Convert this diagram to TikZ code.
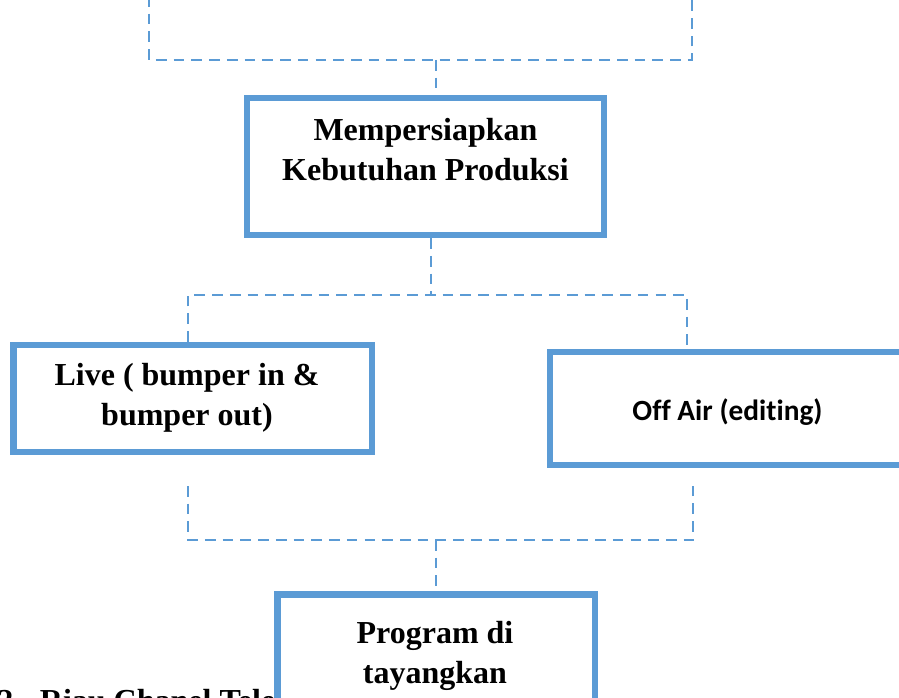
\documentclass[tikz,border=0pt]{standalone}
\usepackage{fontspec}
\setmainfont{Liberation Serif}
\newfontfamily\calibri[Ligatures=NoCommon]{Carlito}
\definecolor{boxblue}{HTML}{5B9BD5}
\tikzset{
    stepbox/.style={draw=boxblue, line width=4.9pt, fill=white, inner sep=0pt},
    link/.style={draw=boxblue, line width=2.2pt, dash pattern=on 8pt off 5.3pt},
    caption/.style={font=\bfseries\fontsize{24}{30}\selectfont, align=center, inner sep=0pt, anchor=base},
}

\begin{document}
\begin{tikzpicture}[x=0.75pt, y=-0.75pt]
    \useasboundingbox (0,0) rectangle (899,698);
    \clip (0,0) rectangle (899,698);

    \node[caption, anchor=base west] (item) at (-3,711) {2.\hspace{14pt}Riau Chanel Tele};

    \node[stepbox, minimum width=267.75pt, minimum height=102.75pt] (prep) at (425.5,166.5) {};
    \node[stepbox, minimum width=268.9pt, minimum height=80.25pt] (live) at (192.75,398.5) {};
    \node[stepbox, minimum width=266.25pt, minimum height=84.75pt] (offair) at (727.5,408.5) {};
    \node[stepbox, minimum width=238.1pt, minimum height=86.25pt] (aired) at (436.25,652) {};

    \node[caption] (prep-txt) at (425.5,181) {Mempersiapkan\\Kebutuhan Produksi};
    \node[caption] (live-txt) at (187,425) {Live ( bumper in \&\\bumper out)};
    \node[caption, font=\calibri\bfseries\fontsize{22}{27}\selectfont] (offair-txt) at (727.5,420) {Off Air (editing)};
    \node[caption] (aired-txt) at (435,683) {Program di\\tayangkan};

    \coordinate (tl) at (149,-4);
    \coordinate (tr) at (692,-4);
    \coordinate (tj) at (436,60);
    \draw[link] (tl) |- (tj) -| (tr);
    \draw[link] (tj) -- (prep.north -| tj);

    \coordinate (mj) at (431,295);
    \coordinate (ml) at (188,295);
    \coordinate (mr) at (687,295);
    \draw[link] (prep.south -| mj) -- (mj);
    \draw[link] (live.north -| ml) -- (ml) -- (mr) -- (offair.north -| mr);

    \coordinate (bl) at (188,486);
    \coordinate (br) at (693,486);
    \coordinate (bj) at (436,540);
    \draw[link] (bl) |- (bj) -| (br);
    \draw[link] (bj) -- (aired.north -| bj);
\end{tikzpicture}
\end{document}
